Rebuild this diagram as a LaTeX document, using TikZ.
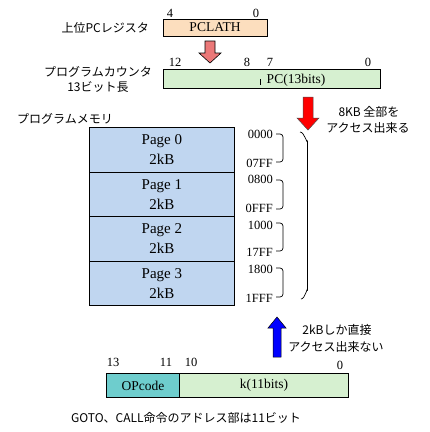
\documentclass[tikz,border=0pt]{standalone}
\usepackage{fontspec}
\setmainfont{Liberation Serif}
\newfontfamily\jp{Noto Sans CJK JP}
\definecolor{peach}{RGB}{252,222,190}
\definecolor{pcgreen}{RGB}{214,240,208}
\definecolor{pageblue}{RGB}{192,214,240}
\definecolor{teal2}{RGB}{110,205,205}
\definecolor{pinkred}{RGB}{235,120,120}
\begin{document}
\begin{tikzpicture}[x=1pt,y=-1pt,
  jtext/.style={font=\jp\fontsize{12}{14}\selectfont, inner sep=0pt},
  bitnum/.style={font=\fontsize{12.5}{13}\selectfont, inner sep=0pt},
  addr/.style={font=\fontsize{12.5}{13}\selectfont, inner sep=0pt, anchor=east},
  regbox/.style={draw=black, line width=0.8pt, inner sep=0pt, font=\fontsize{13.5}{14}\selectfont},
  pagebox/.style={draw=black, line width=0.8pt, fill=pageblue, minimum width=145pt, minimum height=44.5pt, inner sep=0pt, align=center, font=\fontsize{15}{20}\selectfont},
  bracket/.style={draw=black, line width=0.7pt, rounded corners=3pt}]
\useasboundingbox (0,0) rectangle (430,432);

% PCLATH
\node[jtext, anchor=east] (lpcl) at (149,28) {上位PCレジスタ};
\node[regbox, fill=peach, minimum width=104pt, minimum height=17pt] (pclath) at (215,27.5) {PCLATH};
\node[bitnum] (b4) at (170,13) {4};
\node[bitnum] (b0a) at (256,13) {0};

% hatched arrow
\filldraw[fill=pinkred, draw=black, line width=0.6pt]
  (205,41) -- (215,41) -- (215,53) -- (221,53) -- (210,63) -- (199,53) -- (205,53) -- cycle;

% PC
\node[jtext] (lpc1) at (98,72) {プログラムカウンタ};
\node[jtext] (lpc2) at (98,87) {13ビット長};
\node[regbox, fill=pcgreen, minimum width=217pt, minimum height=19pt] (pc) at (271.5,78.5) {};
\node[font=\fontsize{13.5}{14}\selectfont, inner sep=0pt] (pctext) at (296,80) {PC(13bits)};
\draw[line width=0.6pt] (260,79) -- (260,85);
\node[bitnum] (b12) at (175,62) {12};
\node[bitnum] (b8) at (247,62) {8};
\node[bitnum] (b7) at (270,62) {7};
\node[bitnum] (b0b) at (368,62) {0};

% red arrow
\filldraw[fill=red, draw=black!70, line width=0.5pt]
  (303,97) -- (313,97) -- (313,118) -- (319,118) -- (308,130) -- (297,118) -- (303,118) -- cycle;
\node[jtext] (t8k1) at (369,112) {8KB 全部を};
\node[jtext] (t8k2) at (368,128) {アクセス出来る};

% program memory
\node[jtext] (lpm) at (65,119) {プログラムメモリ};
\node[pagebox, anchor=north west] (p0) at (89,127) {Page 0\\2kB};
\node[pagebox, anchor=north west] (p1) at (89,171.5) {Page 1\\2kB};
\node[pagebox, anchor=north west] (p2) at (89,216) {Page 2\\2kB};
\node[pagebox, anchor=north west] (p3) at (89,260.5) {Page 3\\2kB};
\draw[line width=1.6pt] (p0.south west) -- (p0.south east);
\draw[line width=1.6pt] (p2.south west) -- (p2.south east);

% addresses
\node[addr] (a0) at (273,134) {0000};
\node[addr] (a1) at (273,163) {07FF};
\node[addr] (a2) at (273,179) {0800};
\node[addr] (a3) at (273,208) {0FFF};
\node[addr] (a4) at (273,225) {1000};
\node[addr] (a5) at (273,252) {17FF};
\node[addr] (a6) at (273,269) {1800};
\node[addr] (a7) at (273,298) {1FFF};

% small brackets
\draw[bracket] (276,134) -- (283,134) -- (283,162) -- (276,162);
\draw[bracket] (276,180) -- (283,180) -- (283,209) -- (276,209);
\draw[bracket] (276,223) -- (283,223) -- (283,251) -- (276,251);
\draw[bracket] (276,268) -- (283,268) -- (283,297) -- (276,297);

% big bracket
\draw[line width=0.7pt] (300,132) to[out=0,in=-90] (307.5,141) -- (307.5,290) to[out=90,in=0] (301,299);

% blue arrow
\filldraw[fill=blue, draw=black, line width=0.5pt]
  (273,357) -- (281,357) -- (281,328) -- (286,328) -- (277,317) -- (268,328) -- (273,328) -- cycle;
\node[jtext] (t2k1) at (337,330) {2kBしか直接};
\node[jtext] (t2k2) at (336,347) {アクセス出来ない};

% instruction
\node[bitnum] (b13) at (113,362) {13};
\node[bitnum] (b11) at (166,362) {11};
\node[bitnum] (b10) at (191,362) {10};
\node[bitnum] (b0c) at (340,365) {0};
\node[regbox, fill=teal2, minimum width=73pt, minimum height=24pt, anchor=north west] (op) at (106,373) {OPcode};
\node[regbox, fill=pcgreen, minimum width=169pt, minimum height=24pt, anchor=north west] (kb) at (179,373) {k(11bits)};
\node[jtext] (cap) at (186,418) {GOTO、CALL命令のアドレス部は11ビット};
\end{tikzpicture}
\end{document}
